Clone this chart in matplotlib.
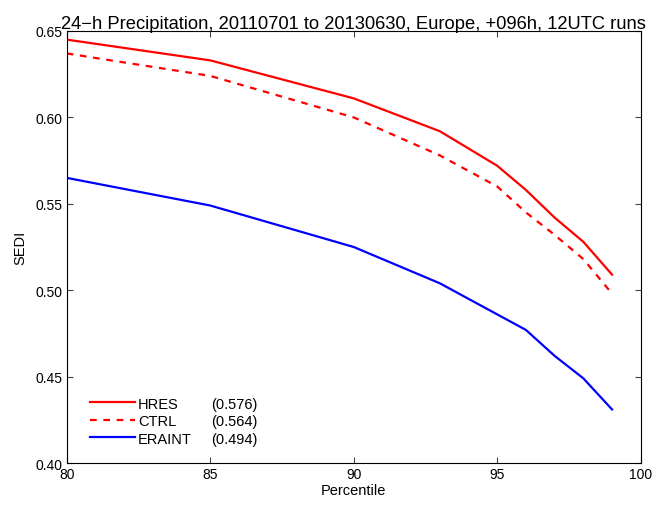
import numpy as np
import matplotlib.pyplot as plt

plt.rcParams['font.family'] = ['Liberation Sans', 'DejaVu Sans']

percentile = [80, 85, 90, 93, 95, 96, 97, 98, 99]
hres = [0.645, 0.633, 0.611, 0.592, 0.572, 0.558, 0.542, 0.528, 0.509]
ctrl = [0.637, 0.624, 0.600, 0.578, 0.560, 0.545, 0.532, 0.518, 0.498]
eraint = [0.565, 0.549, 0.525, 0.504, 0.486, 0.477, 0.462, 0.449, 0.431]

names = ["HRES", "CTRL", "ERAINT"]
scores = ["(0.576)", "(0.564)", "(0.494)"]

fig = plt.figure(figsize=(6.54, 5.06), dpi=100)
ax = fig.add_axes([0.102, 0.083, 0.8777, 0.8538])

ax.plot(percentile, hres, color='#ff0000', lw=1.6, label=names[0])
ax.plot(percentile, ctrl, color='#ff0000', lw=1.6, ls=(0, (3, 3)), label=names[1])
ax.plot(percentile, eraint, color='#0000ff', lw=1.6, label=names[2])

ax.set_xlim(80, 100)
ax.set_ylim(0.40, 0.65)
ax.set_xticks([80, 85, 90, 95, 100])
ax.set_yticks(np.arange(0.40, 0.651, 0.05))
ax.set_yticklabels(["0.40", "0.45", "0.50", "0.55", "0.60", "0.65"])
ax.tick_params(direction='in', top=True, right=True, labelsize=10, length=4,
               color='#444444', pad=3)
for s in ax.spines.values():
    s.set_linewidth(0.8)

ax.set_xlabel("Percentile", fontsize=10.5, labelpad=1)
ax.set_ylabel("SEDI", fontsize=10.5, labelpad=6)
ax.set_title("24\u2212h Precipitation, 20110701 to 20130630, Europe, +096h, 12UTC runs",
             fontsize=13.2, pad=2)

leg = ax.legend(loc='lower left', bbox_to_anchor=(0.03, 0.027), frameon=False,
                fontsize=10.5, handlelength=3.1, handletextpad=0.2, labelspacing=0.24,
                borderaxespad=0)
fig.canvas.draw()
for txt, sc in zip(leg.get_texts(), scores):
    bb = txt.get_window_extent().transformed(ax.transAxes.inverted())
    ax.text(0.251, (bb.y0 + bb.y1) / 2, sc, transform=ax.transAxes,
            fontsize=10.5, va='center')

fig.savefig("out.png", dpi=100)
